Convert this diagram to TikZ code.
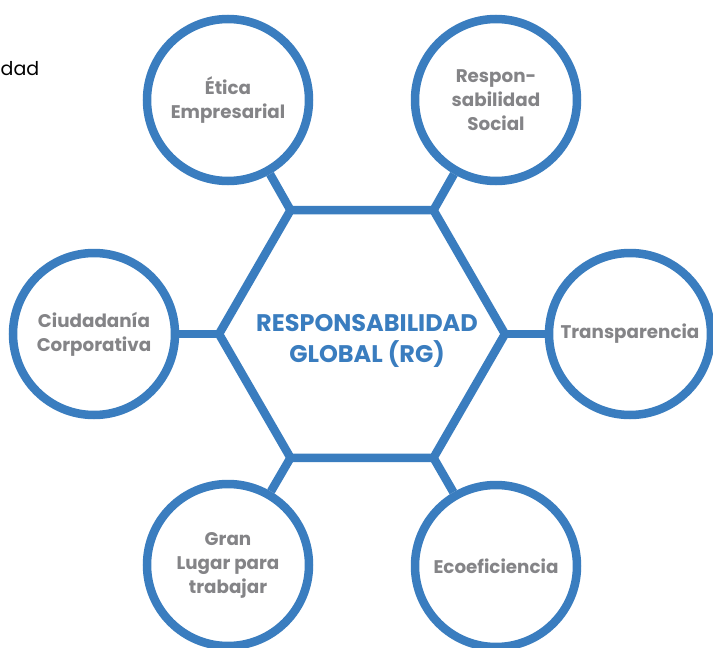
\documentclass[tikz,border=0pt]{standalone}
\usepackage{fontspec}
\setmainfont{Poppins}
\definecolor{rgblue}{HTML}{3A7DBF}
\definecolor{rggray}{HTML}{848487}
\begin{document}
\begin{tikzpicture}[x=1pt,y=-1pt,
  ring/.style={circle, draw=rgblue, line width=8.5pt, minimum size=162pt, inner sep=0pt,
    fill=white, text=rggray, align=center,
    font=\bfseries\fontsize{18.3}{24}\selectfont},
  link/.style={draw=rgblue, line width=8.5pt},
  hexline/.style={draw=rgblue, line width=8.5pt, line join=miter},
  title/.style={text=rgblue, align=center, font=\bfseries\fontsize{24}{31}\selectfont},
  cut/.style={text=black, font=\fontsize{19}{23}\selectfont, inner sep=0pt}]
\useasboundingbox (0,0) rectangle (713,648);
\fill[white] (0,0) rectangle (713,648);
% hexagon corners
\coordinate (h0) at (505,334);
\coordinate (h1) at (433.5,210.2);
\coordinate (h2) at (290.5,210.2);
\coordinate (h3) at (219,334);
\coordinate (h4) at (290.5,457.8);
\coordinate (h5) at (433.5,457.8);
% circles
\node[ring] (c0) at (630,334) {Transparencia};
\node[ring] (c1) at (496,100) {Respon-\\sabilidad\\Social};
\node[ring] (c2) at (228,100) {Ética\\Empresarial};
\node[ring] (c3) at (94,334) {Ciudadanía\\Corporativa};
\node[ring] (c4) at (228,565) {Gran\\Lugar para\\trabajar};
\node[ring] (c5) at (496,566) {Ecoeficiencia};
% connectors
\draw[link] (h0) -- (c0);
\draw[link] (h1) -- (c1);
\draw[link] (h2) -- (c2);
\draw[link] (h3) -- (c3);
\draw[link] (h4) -- (c4);
\draw[link] (h5) -- (c5);
% hexagon
\draw[hexline] (h0) -- (h1) -- (h2) -- (h3) -- (h4) -- (h5) -- cycle;
\node[title] (rg) at (367,341) {RESPONSABILIDAD\\GLOBAL (RG)};
% partly shown text at the left edge
\node[cut, anchor=base west] (dad) at (0.5,75) {dad};
\end{tikzpicture}
\end{document}
